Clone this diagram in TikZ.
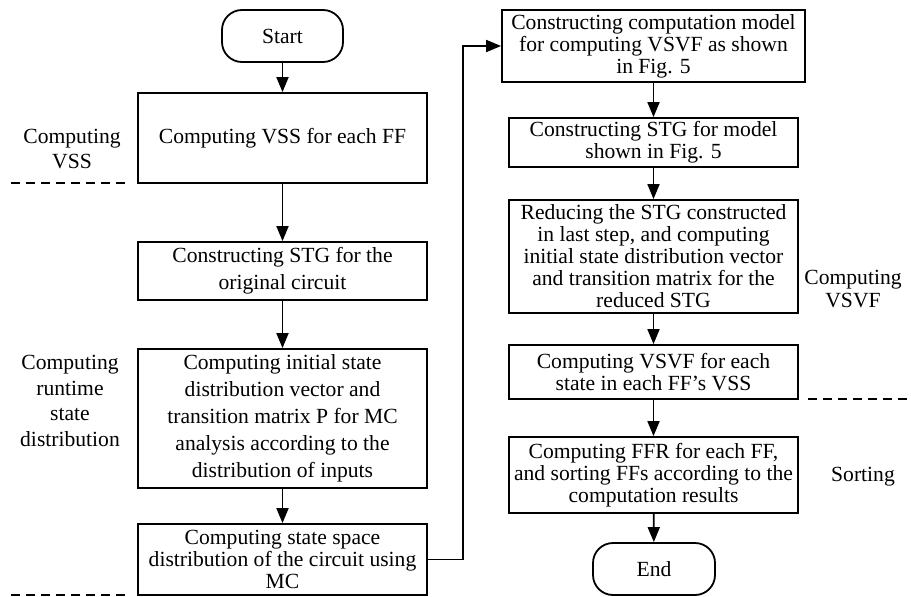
\documentclass[tikz,border=0pt]{standalone}
\usepackage{fontspec}
\setmainfont{Liberation Serif}
\usetikzlibrary{arrows.meta}
\tikzset{
  procbox/.style={draw, line width=1.8pt, rectangle, align=center, inner sep=0pt,
    font=\fontsize{21.6}{#1}\selectfont},
  procbox/.default=22,
  termbox/.style={draw, line width=1.8pt, rectangle, rounded corners=20pt, align=center,
    inner sep=0pt, font=\fontsize{21.6}{22}\selectfont},
  sidelabel/.style={align=center, inner sep=0pt, font=\fontsize{21.6}{#1}\selectfont},
  sidelabel/.default=25.5,
  flow/.style={line width=1.8pt, -{Triangle[length=15pt,width=12pt]}},
  divider/.style={line width=1.5pt, dash pattern=on 9pt off 6pt},
}
\begin{document}
\begin{tikzpicture}[x=1pt,y=-1pt]
\useasboundingbox (0,0) rectangle (911,597);

% left column
\node[termbox, minimum width=121pt, minimum height=52pt] (start) at (282.5,36) {Start};
\node[procbox, minimum width=289pt, minimum height=90pt] (b1) at (282.5,138) {Computing VSS for each FF};
\node[procbox=27, minimum width=289pt, minimum height=58pt] (b2) at (282.5,271) {Constructing STG for the\\original circuit};
\node[procbox=27, minimum width=289pt, minimum height=139pt] (b3) at (282.5,418.5) {Computing initial state\\distribution vector and\\transition matrix P for MC\\analysis according to the\\distribution of inputs};
\node[procbox, minimum width=289pt, minimum height=71pt] (b4) at (282.5,559.5) {Computing state space\\distribution of the circuit using\\MC};

% right column
\node[procbox, minimum width=303pt, minimum height=72pt] (b5) at (653.5,46) {Constructing computation model\\for computing VSVF as shown\\in Fig. 5};
\node[procbox, minimum width=289pt, minimum height=49pt] (b6) at (653.5,142.5) {Constructing STG for model\\shown in Fig. 5};
\node[procbox, minimum width=289pt, minimum height=113pt] (b7) at (653.5,256.5) {Reducing the STG constructed\\in last step, and computing\\initial state distribution vector\\and transition matrix for the\\reduced STG};
\node[procbox, minimum width=289pt, minimum height=54pt] (b8) at (653.5,372) {Computing VSVF for each\\state in each FF's VSS};
\node[procbox, minimum width=289pt, minimum height=76pt] (b9) at (653.5,475) {Computing FFR for each FF,\\and sorting FFs according to the\\computation results};
\node[termbox, minimum width=122pt, minimum height=52pt] (end) at (654,569) {End};

% stage labels
\node[sidelabel] (l1) at (72,149) {Computing\\VSS};
\node[sidelabel] (l2) at (70,401) {Computing\\runtime\\state\\distribution};
\node[sidelabel=23] (l3) at (853,289) {Computing\\VSVF};
\node[sidelabel] (l4) at (863,477) {Sorting};

% stage dividers
\draw[divider] (11,183) -- (130,183);
\draw[divider] (11,595) -- (130,595);
\draw[divider] (808,399) -- (911,399);

% flow
\draw[flow] (start) -- (b1);
\draw[flow] (b1) -- (b2);
\draw[flow] (b2) -- (b3);
\draw[flow] (b3) -- (b4);
\coordinate (c1) at (463,559.5);
\coordinate (c2) at (463,46);
\draw[flow] (b4.east) -- (c1) -- (c2) -- (b5.west);
\draw[flow] (b5) -- (b6);
\draw[flow] (b6) -- (b7);
\draw[flow] (b7) -- (b8);
\draw[flow] (b8) -- (b9);
\draw[flow] (b9) -- (end);
\end{tikzpicture}
\end{document}
